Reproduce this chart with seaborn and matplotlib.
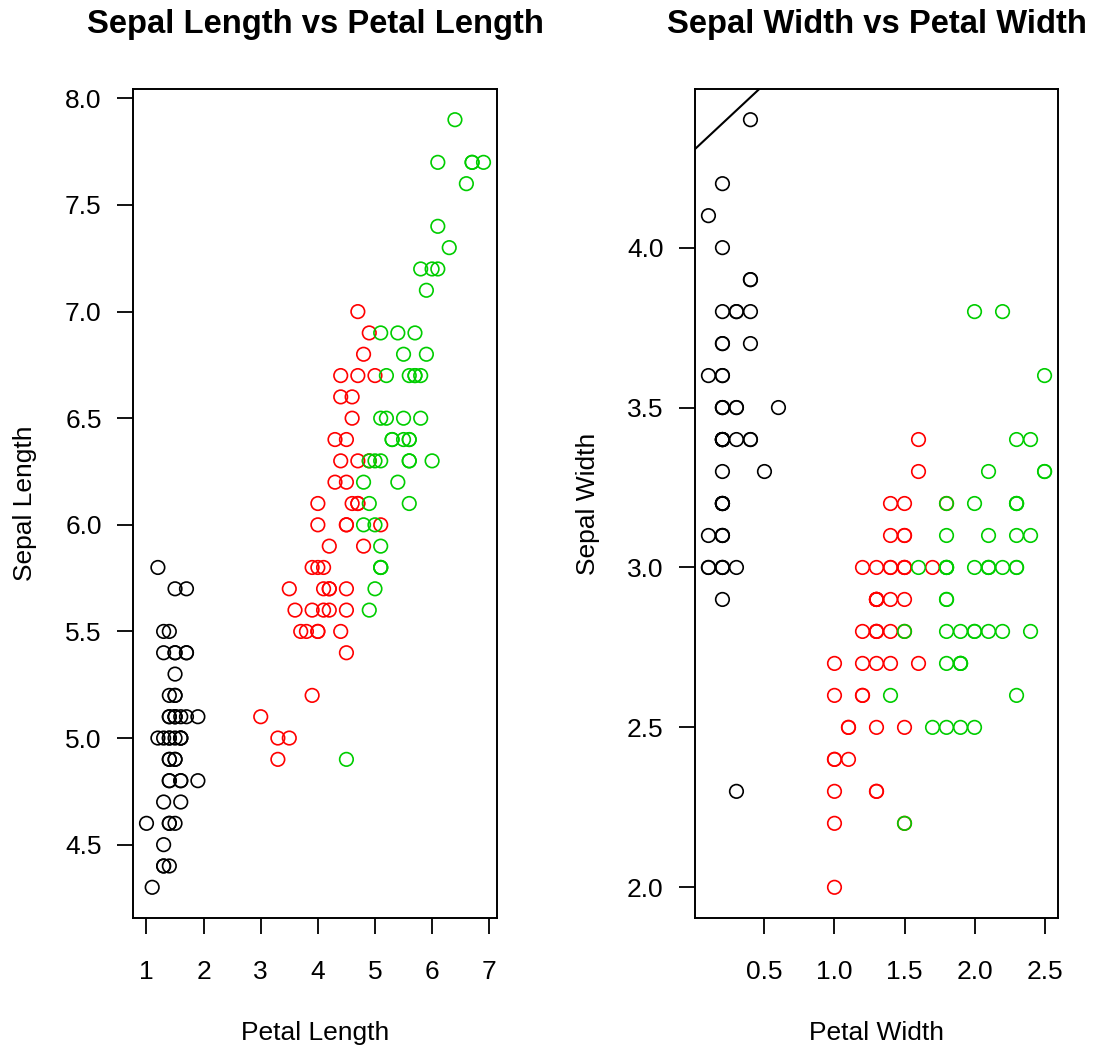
import numpy as np
import pandas as pd
import matplotlib
matplotlib.use("Agg")
import matplotlib.pyplot as plt
import seaborn as sns

# Iris data (as plotted)
sepal_length = [
    5.1, 4.9, 4.7, 4.6, 5.0, 5.4, 4.6, 5.0, 4.4, 4.9, 5.4, 4.8, 4.8, 4.3, 5.8, 5.7, 5.4, 5.1, 5.7, 5.1,
    5.4, 5.1, 4.6, 5.1, 4.8, 5.0, 5.0, 5.2, 5.2, 4.7, 4.8, 5.4, 5.2, 5.5, 4.9, 5.0, 5.5, 4.9, 4.4, 5.1,
    5.0, 4.5, 4.4, 5.0, 5.1, 4.8, 5.1, 4.6, 5.3, 5.0,
    7.0, 6.4, 6.9, 5.5, 6.5, 5.7, 6.3, 4.9, 6.6, 5.2, 5.0, 5.9, 6.0, 6.1, 5.6, 6.7, 5.6, 5.8, 6.2, 5.6,
    5.9, 6.1, 6.3, 6.1, 6.4, 6.6, 6.8, 6.7, 6.0, 5.7, 5.5, 5.5, 5.8, 6.0, 5.4, 6.0, 6.7, 6.3, 5.6, 5.5,
    5.5, 6.1, 5.8, 5.0, 5.6, 5.7, 5.7, 6.2, 5.1, 5.7,
    6.3, 5.8, 7.1, 6.3, 6.5, 7.6, 4.9, 7.3, 6.7, 7.2, 6.5, 6.4, 6.8, 5.7, 5.8, 6.4, 6.5, 7.7, 7.7, 6.0,
    6.9, 5.6, 7.7, 6.3, 6.7, 7.2, 6.2, 6.1, 6.4, 7.2, 7.4, 7.9, 6.4, 6.3, 6.1, 7.7, 6.3, 6.4, 6.0, 6.9,
    6.7, 6.9, 5.8, 6.8, 6.7, 6.7, 6.3, 6.5, 6.2, 5.9]
sepal_width = [
    3.5, 3.0, 3.2, 3.1, 3.6, 3.9, 3.4, 3.4, 2.9, 3.1, 3.7, 3.4, 3.0, 3.0, 4.0, 4.4, 3.9, 3.5, 3.8, 3.8,
    3.4, 3.7, 3.6, 3.3, 3.4, 3.0, 3.4, 3.5, 3.4, 3.2, 3.1, 3.4, 4.1, 4.2, 3.1, 3.2, 3.5, 3.6, 3.0, 3.4,
    3.5, 2.3, 3.2, 3.5, 3.8, 3.0, 3.8, 3.2, 3.7, 3.3,
    3.2, 3.2, 3.1, 2.3, 2.8, 2.8, 3.3, 2.4, 2.9, 2.7, 2.0, 3.0, 2.2, 2.9, 2.9, 3.1, 3.0, 2.7, 2.2, 2.5,
    3.2, 2.8, 2.5, 2.8, 2.9, 3.0, 2.8, 3.0, 2.9, 2.6, 2.4, 2.4, 2.7, 2.7, 3.0, 3.4, 3.1, 2.3, 3.0, 2.5,
    2.6, 3.0, 2.6, 2.3, 2.7, 3.0, 2.9, 2.9, 2.5, 2.8,
    3.3, 2.7, 3.0, 2.9, 3.0, 3.0, 2.5, 2.9, 2.5, 3.6, 3.2, 2.7, 3.0, 2.5, 2.8, 3.2, 3.0, 3.8, 2.6, 2.2,
    3.2, 2.8, 2.8, 2.7, 3.3, 3.2, 2.8, 3.0, 2.8, 3.0, 2.8, 3.8, 2.8, 2.8, 2.6, 3.0, 3.4, 3.1, 3.0, 3.1,
    3.1, 3.1, 2.7, 3.2, 3.3, 3.0, 2.5, 3.0, 3.4, 3.0]
petal_length = [
    1.4, 1.4, 1.3, 1.5, 1.4, 1.7, 1.4, 1.5, 1.4, 1.5, 1.5, 1.6, 1.4, 1.1, 1.2, 1.5, 1.3, 1.4, 1.7, 1.5,
    1.7, 1.5, 1.0, 1.7, 1.9, 1.6, 1.6, 1.5, 1.4, 1.6, 1.6, 1.5, 1.5, 1.4, 1.5, 1.2, 1.3, 1.4, 1.3, 1.5,
    1.3, 1.3, 1.3, 1.6, 1.9, 1.4, 1.6, 1.4, 1.5, 1.4,
    4.7, 4.5, 4.9, 4.0, 4.6, 4.5, 4.7, 3.3, 4.6, 3.9, 3.5, 4.2, 4.0, 4.7, 3.6, 4.4, 4.5, 4.1, 4.5, 3.9,
    4.8, 4.0, 4.9, 4.7, 4.3, 4.4, 4.8, 5.0, 4.5, 3.5, 3.8, 3.7, 3.9, 5.1, 4.5, 4.5, 4.7, 4.4, 4.1, 4.0,
    4.4, 4.6, 4.0, 3.3, 4.2, 4.2, 4.2, 4.3, 3.0, 4.1,
    6.0, 5.1, 5.9, 5.6, 5.8, 6.6, 4.5, 6.3, 5.8, 6.1, 5.1, 5.3, 5.5, 5.0, 5.1, 5.3, 5.5, 6.7, 6.9, 5.0,
    5.7, 4.9, 6.7, 4.9, 5.7, 6.0, 4.8, 4.9, 5.6, 5.8, 6.1, 6.4, 5.6, 5.1, 5.6, 6.1, 5.6, 5.5, 4.8, 5.4,
    5.6, 5.1, 5.1, 5.9, 5.7, 5.2, 5.0, 5.2, 5.4, 5.1]
petal_width = [
    0.2, 0.2, 0.2, 0.2, 0.2, 0.4, 0.3, 0.2, 0.2, 0.1, 0.2, 0.2, 0.1, 0.1, 0.2, 0.4, 0.4, 0.3, 0.3, 0.3,
    0.2, 0.4, 0.2, 0.5, 0.2, 0.2, 0.4, 0.2, 0.2, 0.2, 0.2, 0.4, 0.1, 0.2, 0.2, 0.2, 0.2, 0.1, 0.2, 0.2,
    0.3, 0.3, 0.2, 0.6, 0.4, 0.3, 0.2, 0.2, 0.2, 0.2,
    1.4, 1.5, 1.5, 1.3, 1.5, 1.3, 1.6, 1.0, 1.3, 1.4, 1.0, 1.5, 1.0, 1.4, 1.3, 1.4, 1.5, 1.0, 1.5, 1.1,
    1.8, 1.3, 1.5, 1.2, 1.3, 1.4, 1.4, 1.7, 1.5, 1.0, 1.1, 1.0, 1.2, 1.6, 1.5, 1.6, 1.5, 1.3, 1.3, 1.3,
    1.2, 1.4, 1.2, 1.0, 1.3, 1.2, 1.3, 1.3, 1.1, 1.3,
    2.5, 1.9, 2.1, 1.8, 2.2, 2.1, 1.7, 1.8, 1.8, 2.5, 2.0, 1.9, 2.1, 2.0, 2.4, 2.3, 1.8, 2.2, 2.3, 1.5,
    2.3, 2.0, 2.0, 1.8, 2.1, 1.8, 1.8, 1.8, 2.1, 1.6, 1.9, 2.0, 2.2, 1.5, 1.4, 2.3, 2.4, 1.8, 1.8, 2.1,
    2.4, 2.3, 1.9, 2.3, 2.5, 2.3, 1.9, 2.0, 2.3, 1.8]
species_names = ["setosa", "versicolor", "virginica"]
species_colors = ["#000000", "#FF0000", "#00CD00"]
species = [s for s in species_names for _ in range(50)]

df = pd.DataFrame({
    "Sepal.Length": sepal_length, "Sepal.Width": sepal_width,
    "Petal.Length": petal_length, "Petal.Width": petal_width,
    "Species": species,
})
palette = dict(zip(species_names, species_colors))

sns.set_theme(style="white")
plt.rcParams["font.family"] = ["Liberation Sans", "DejaVu Sans"]
plt.rcParams["text.color"] = "black"
plt.rcParams["axes.labelcolor"] = "black"

W, H = 1094, 1050
fig = plt.figure(figsize=(W / 100, H / 100), dpi=100)


def px_axes(left, top, right, bottom):
    return fig.add_axes([left / W, 1 - bottom / H, (right - left) / W, (bottom - top) / H])


ax1 = px_axes(133, 89, 497, 918)
ax2 = px_axes(695, 89, 1058, 918)

LABEL_SIZE = 19
TITLE_SIZE = 23.6


def style(ax, xcol, ycol, title, xlabel, ylabel, xticks, yticks, ylab_x):
    sns.scatterplot(data=df, x=xcol, y=ycol, hue="Species", palette=palette,
                    s=95, linewidth=1.2, legend=False, ax=ax, zorder=3)
    for coll in ax.collections:
        fc = coll.get_facecolors()
        coll.set_edgecolors(fc)
        coll.set_facecolors("none")
    xs = np.asarray(df[xcol]); ys = np.asarray(df[ycol])
    xr = xs.max() - xs.min(); yr = ys.max() - ys.min()
    ax.set_xlim(xs.min() - 0.04 * xr, xs.max() + 0.04 * xr)
    ax.set_ylim(ys.min() - 0.04 * yr, ys.max() + 0.04 * yr)
    ax.set_xticks(xticks)
    ax.set_yticks(yticks)
    ax.set_xticklabels([f"{t:g}" if isinstance(t, int) else f"{t:.1f}" for t in xticks])
    ax.set_yticklabels([f"{t:.1f}" for t in yticks])
    ax.tick_params(axis="both", which="major", direction="out", length=11.5, width=1.3,
                   color="black", labelsize=LABEL_SIZE, labelcolor="black",
                   bottom=True, left=True)
    ax.tick_params(axis="x", pad=18.5)
    ax.tick_params(axis="y", pad=11)
    for sp in ax.spines.values():
        sp.set_visible(True)
        sp.set_color("black")
        sp.set_linewidth(1.4)
    ax.set_xlabel("")
    ax.set_ylabel("")
    bb = ax.get_position()
    cx = (bb.x0 + bb.x1) / 2
    fig.text(cx, 1 - 25 / H, title, ha="center", va="center", fontsize=TITLE_SIZE,
             fontweight="bold", color="black")
    fig.text(cx, 1 - 1033 / H, xlabel, ha="center", va="center", fontsize=LABEL_SIZE,
             color="black")
    fig.text(ylab_x / W, (bb.y0 + bb.y1) / 2, ylabel, ha="center", va="center",
             fontsize=LABEL_SIZE, rotation=90, color="black")


style(ax1, "Petal.Length", "Sepal.Length", "Sepal Length vs Petal Length",
      "Petal Length", "Sepal Length", [1, 2, 3, 4, 5, 6, 7],
      [4.5, 5.0, 5.5, 6.0, 6.5, 7.0, 7.5, 8.0], 25)
style(ax2, "Petal.Width", "Sepal.Width", "Sepal Width vs Petal Width",
      "Petal Width", "Sepal Width", [0.5, 1.0, 1.5, 2.0, 2.5],
      [2.0, 2.5, 3.0, 3.5, 4.0], 588)

# regression line of Sepal.Length on Petal.Length, drawn on the right panel
slope, intercept = np.polyfit(df["Petal.Length"], df["Sepal.Length"], 1)
ax2.axline((0, intercept), slope=slope, color="black", linewidth=1.5, zorder=2)

fig.savefig("out.png", dpi=100, facecolor="white")
